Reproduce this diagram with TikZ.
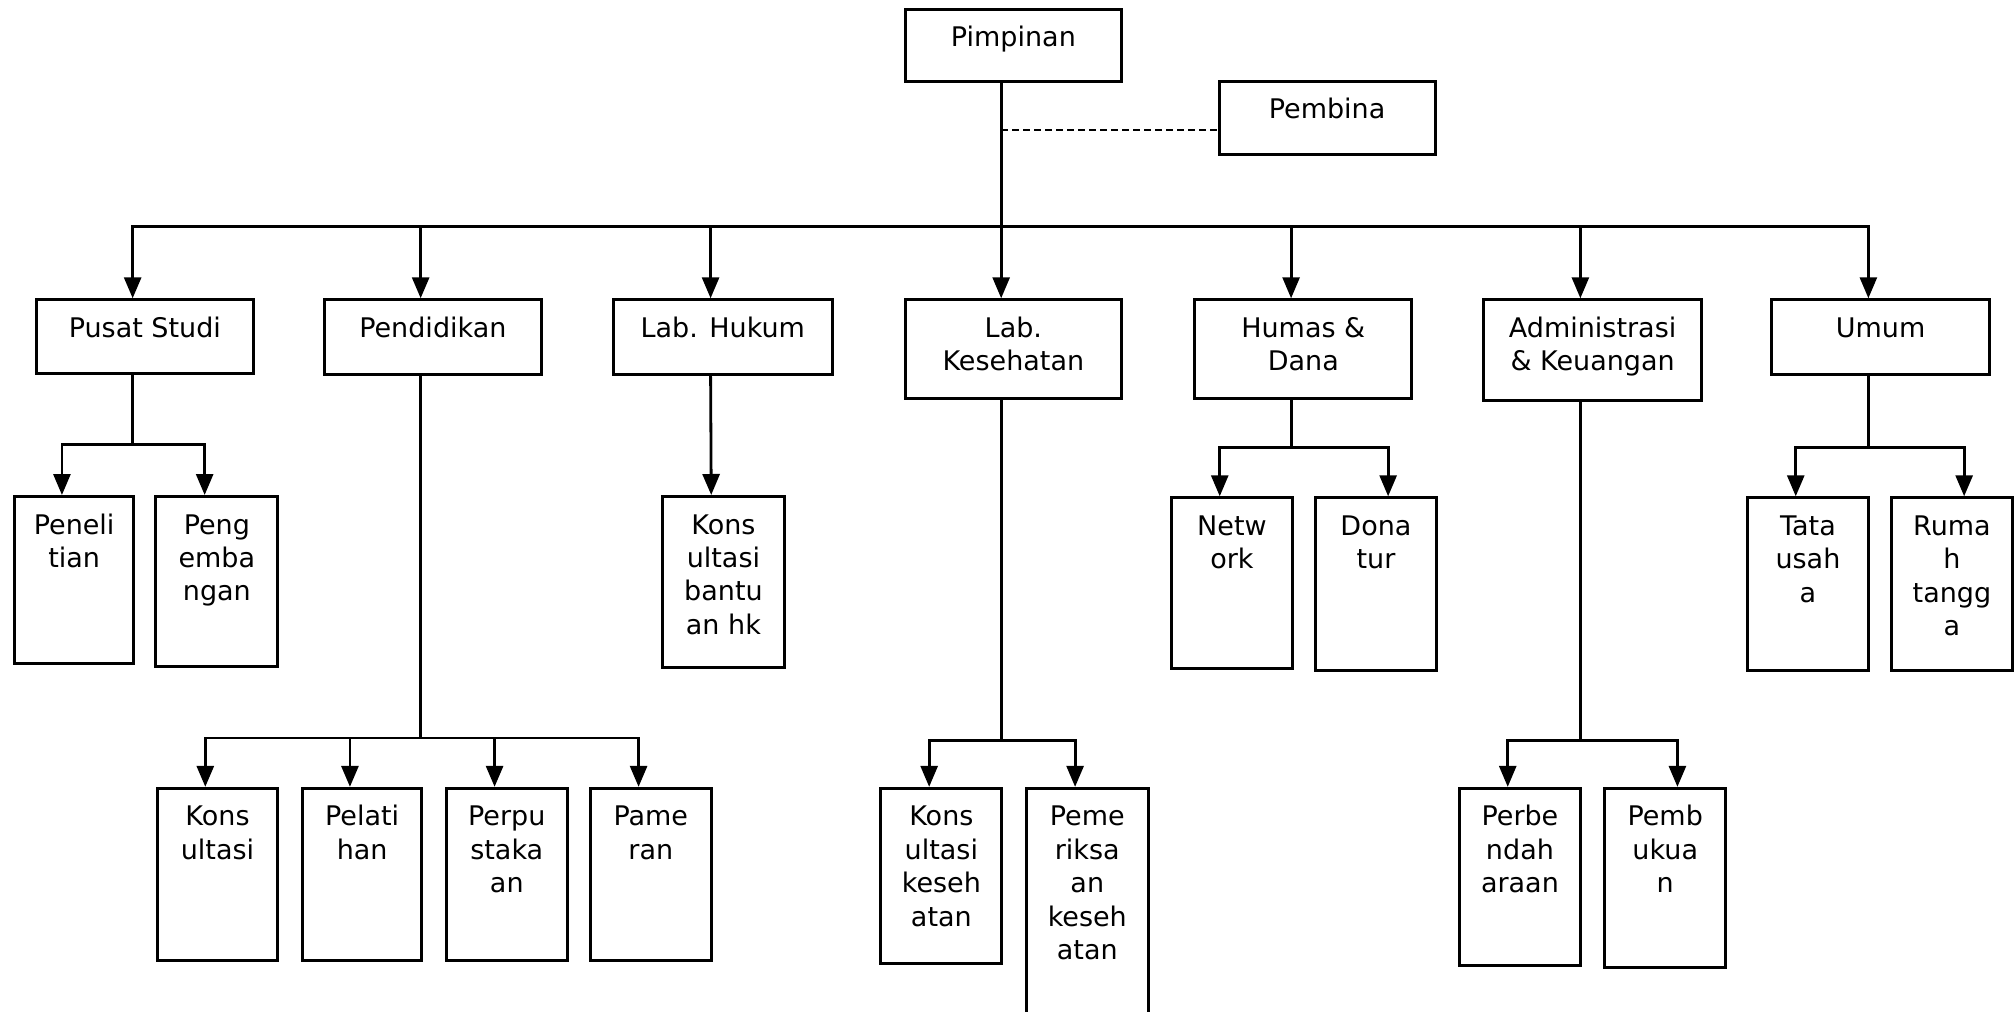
\documentclass[tikz,border=0pt]{standalone}
\usepackage{fontspec}
\setmainfont{DejaVu Sans}
\usetikzlibrary{arrows.meta}

% A framed unit: name, left, top, right, bottom, label (lines split by \\)
\newcommand\orgbox[6]{%
  \node[orgframe, anchor=north west,
        minimum width={(#4-#2)*1.2857pt},
        minimum height={(#5-#3)*1.2857pt}] (#1) at (#2,#3) {};
  \node[orgtext, anchor=base] (#1-t) at ([yshift=-39pt]#1.north)
        {\parbox[t]{200pt}{\centering #6}};
  \coordinate (#1-in)  at ([lo]#1.north);
  \coordinate (#1-inr) at ([ro]#1.north);
  \coordinate (#1-out) at ([lo]#1.south);
}

\begin{document}
\begin{tikzpicture}[x=1.2857pt,y=-1.2857pt,
  orgframe/.style={draw, line width=3pt, inner sep=0pt, fill=white},
  orgtext/.style={inner sep=0pt, font=\fontsize{27}{33.4}\selectfont},
  lo/.style={xshift=-12.2pt},
  ro/.style={xshift=12.2pt},
  ln/.style={line width=2.8pt},
  arr/.style={ln, -{Triangle[length=21pt,width=17pt]}},
  dashline/.style={line width=2.2pt, dash pattern=on 7pt off 4pt}]

\useasboundingbox (0,0) rectangle (1568,787);

% top level
\orgbox{pimp}{703}{6}{871}{62}{Pimpinan}
\orgbox{pemb}{947}{62}{1115}{119}{Pembina}

% departments
\orgbox{pusat}{27}{232}{196}{289}{Pusat Studi}
\orgbox{pend}{251}{232}{420}{290}{Pendidikan}
\orgbox{labh}{476}{232}{646}{290}{Lab. Hukum}
\orgbox{labk}{703}{232}{871}{309}{Lab.\\Kesehatan}
\orgbox{humas}{928}{232}{1097}{309}{Humas \&\\Dana}
\orgbox{adm}{1153}{232}{1322}{310}{Administrasi\\\& Keuangan}
\orgbox{umum}{1377}{232}{1546}{290}{Umum}

% units under the departments
\orgbox{pen}{10}{385}{103}{515}{Peneli\\tian}
\orgbox{peng}{120}{385}{215}{517}{Peng\\emba\\ngan}
\orgbox{kon}{121}{612}{215}{746}{Kons\\ultasi}
\orgbox{pel}{234}{612}{327}{746}{Pelati\\han}
\orgbox{per}{346}{612}{440}{746}{Perpu\\staka\\an}
\orgbox{pam}{458}{612}{552}{746}{Pame\\ran}
\orgbox{kbh}{514}{385}{609}{518}{Kons\\ultasi\\bantu\\an hk}
\orgbox{kk}{684}{612}{778}{748}{Kons\\ultasi\\keseh\\atan}
\orgbox{pk}{797}{612}{892}{792}{Peme\\riksa\\an\\keseh\\atan}
\orgbox{net}{910}{386}{1004}{519}{Netw\\ork}
\orgbox{don}{1022}{386}{1116}{520}{Dona\\tur}
\orgbox{pbd}{1134}{612}{1228}{750}{Perbe\\ndah\\araan}
\orgbox{pbk}{1247}{612}{1341}{751}{Pemb\\ukua\\n}
\orgbox{tu}{1358}{386}{1452}{520}{Tata\\usah\\a}
\orgbox{rt}{1470}{386}{1564}{520}{Ruma\\h\\tangg\\a}

% bus levels
\coordinate (bus) at (0,176);
\coordinate (psbus) at (0,346);
\coordinate (pdbus) at (0,574);
\coordinate (lkbus) at (0,576);
\coordinate (hdbus) at (0,348);
\coordinate (akbus) at (0,576);
\coordinate (umbus) at (0,348);

% Pimpinan to the departments
\draw[arr] (pimp-out) -- (labk-in);
\foreach \d in {pusat,pend,labh,humas,adm,umum}
  \draw[arr] (pimp-out |- bus) -| (\d-in);

% advisory line to Pembina
\coordinate (dsh) at ([yshift=-12pt]pemb.west);
\draw[dashline] (pimp-out |- dsh) -- (dsh);

% Pusat Studi
\draw[ln] (pusat-out) -- (pusat-out |- psbus);
\draw[arr] (pusat-out |- psbus) -| (pen-in);
\draw[arr] (pusat-out |- psbus) -| (peng-in);

% Pendidikan
\draw[ln] (pend-out) -- (pend-out |- pdbus);
\foreach \u in {kon,pel,per,pam}
  \draw[arr] (pend-out |- pdbus) -| (\u-in);

% Lab. Hukum
\draw[arr] (labh-out) -- (kbh-in);

% Lab. Kesehatan
\draw[ln] (labk-out) -- (labk-out |- lkbus);
\draw[arr] (labk-out |- lkbus) -| (kk-in);
\draw[arr] (labk-out |- lkbus) -| (pk-in);

% Humas & Dana
\draw[ln] (humas-out) -- (humas-out |- hdbus);
\draw[arr] (humas-out |- hdbus) -| (net-in);
\draw[arr] (humas-out |- hdbus) -| (don-inr);

% Administrasi & Keuangan
\draw[ln] (adm-out) -- (adm-out |- akbus);
\draw[arr] (adm-out |- akbus) -| (pbd-in);
\draw[arr] (adm-out |- akbus) -| (pbk-inr);

% Umum
\draw[ln] (umum-out) -- (umum-out |- umbus);
\draw[arr] (umum-out |- umbus) -| (tu-in);
\draw[arr] (umum-out |- umbus) -| (rt-inr);

\end{tikzpicture}
\end{document}
